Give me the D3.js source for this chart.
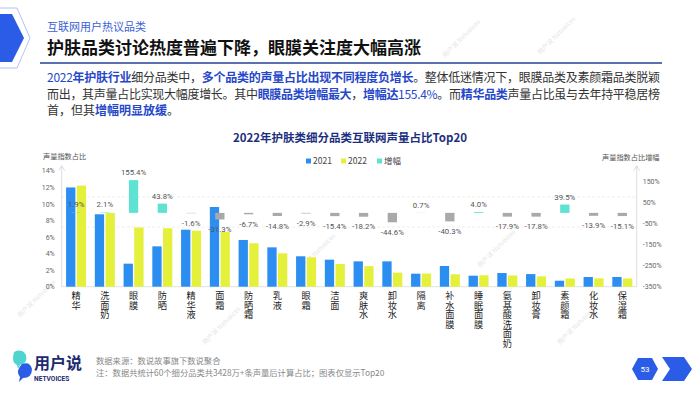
<!DOCTYPE html>
<html>
<head>
<meta charset="utf-8">
<script src="https://cdn.jsdelivr.net/npm/d3@7"></script>
<style>
  body { margin: 0; background: #fff; }
  svg { display: block; font-family: "Noto Sans CJK SC", "Noto Sans", sans-serif; }
  .vlabel { writing-mode: vertical-rl; text-orientation: upright; }
</style>
</head>
<body>
<svg id="chart" width="700" height="394"></svg>
<script>
// chart data
const categories = ['精华', '洗面奶', '眼膜', '防晒', '精华液', '面霜', '防晒霜', '乳液', '眼霜', '洁面',
    '爽肤水', '卸妆水', '隔离', '补水面膜', '睡眠面膜', '氨基酸洗面奶', '卸妆膏', '素颜霜', '化妆水', '保湿霜'];
const share2021 = [11.98, 8.74, 2.78, 4.87, 6.88, 9.62, 5.64, 4.75, 3.67, 3.26,
    3.06, 3.06, 1.57, 2.50, 1.33, 1.65, 1.52, 0.72, 1.17, 1.17];
const share2022 = [12.2, 8.9, 7.15, 7.05, 6.76, 6.6, 5.24, 4.03, 3.55, 2.74,
    2.48, 1.70, 1.58, 1.50, 1.38, 1.36, 1.25, 1.00, 1.01, 0.99];
const growth = [1.9, 2.1, 155.4, 43.8, -1.6, -31.3, -6.7, -14.8, -2.9, -15.4,
    -18.2, -44.6, 0.7, -40.3, 4.0, -17.9, -17.8, 39.5, -13.9, -15.1];
const leftTicks = [0, 2, 4, 6, 8, 10, 12, 14];
const rightTicks = [150, 50, -50, -150, -250, -350];
const seriesNames = ['2021', '2022', '增幅'];

const colors = { '2021': '#2b8ef0', '2022': '#e4f03a', up: '#5de2d3', down: '#a9a9a9' };

const svg = d3.select('#chart');

// ---- page decoration ----
svg.append('polygon')
    .attr('points', '-20,14 12,14 24,38 12,62 -20,62')
    .attr('fill', '#2a5ce8');
svg.append('polyline')
    .attr('points', '-10,8 17,8 30,38 17,68 -10,68')
    .attr('fill', 'none').attr('stroke', '#9fb3ef').attr('stroke-width', 0.8);

// faint watermarks, kept clear of the real texts
const marks = [[445, 58], [540, 55], [300, 272], [480, 268], [205, 345], [560, 345], [20, 318]];
marks.forEach(([mx, my]) => {
    const g = svg.append('g').attr('transform', `translate(${mx},${my}) rotate(-45)`)
        .attr('fill', '#e6e6e6').attr('font-size', 6.5);
    g.append('text').text('用户说 Netvoices');
});

svg.append('text').attr('x', 47).attr('y', 30.5)
    .attr('font-size', 11).attr('fill', '#3d5fd6').text('互联网用户热议品类');
svg.append('text').attr('x', 47).attr('y', 54)
    .attr('font-size', 17).attr('font-weight', 'bold').attr('fill', '#111')
    .text('护肤品类讨论热度普遍下降，眼膜关注度大幅高涨');
svg.append('line').attr('x1', 40).attr('x2', 662).attr('y1', 63).attr('y2', 63)
    .attr('stroke', '#263f94').attr('stroke-width', 1.6);

// paragraph, blue parts marked with b (bold) or c (colour only)
const paraLines = [
    [['c', '2022'], ['b', '年护肤行业'], ['n', '细分品类中，'], ['b', '多个品类的声量占比出现不同程度负增长'], ['n', '。整体低迷情况下，眼膜品类及素颜霜品类脱颖']],
    [['n', '而出，其声量占比实现大幅度增长。其中'], ['b', '眼膜品类增幅最大'], ['n', '，'], ['b', '增幅达'], ['c', '155.4%'], ['n', '。而'], ['b', '精华品类'], ['n', '声量占比虽与去年持平稳居榜']],
    [['n', '首，但其'], ['b', '增幅明显放缓'], ['n', '。']]
];
paraLines.forEach((parts, i) => {
    const t = svg.append('text').attr('x', 47).attr('y', 82 + i * 16.5)
        .attr('font-size', 12).attr('fill', '#333');
    if (i < 2) t.attr('textLength', 613).attr('lengthAdjust', 'spacing');
    parts.forEach(([k, s]) => {
        const sp = t.append('tspan').text(s);
        if (k !== 'n') sp.attr('fill', '#2648c8');
        if (k === 'b') sp.attr('font-weight', 'bold');
    });
});

// ---- chart ----
const y0 = 286.7, yTop = 170.7;
const x = d3.scaleBand().domain(categories).range([61.7, 636.7]);
const x1 = d3.scaleBand().domain(['2021', '2022']).range([0, x.bandwidth()])
    .paddingInner(0.13).paddingOuter(0.41);
const yL = d3.scaleLinear().domain([0, 14]).range([y0, yTop]);
const yR = d3.scaleLinear().domain([-350, 200]).range([y0, yTop]);

svg.append('text').attr('x', 350).attr('y', 142).attr('text-anchor', 'middle')
    .attr('font-size', 11.5).attr('font-weight', 'bold').attr('fill', '#1c2f7e')
    .text('2022年护肤类细分品类互联网声量占比Top20');

// legend
const legendX = [306, 341, 377];
seriesNames.forEach((s, i) => {
    svg.append('rect').attr('x', legendX[i]).attr('y', 158.5).attr('width', 5).attr('height', 5)
        .attr('fill', i === 0 ? colors['2021'] : i === 1 ? colors['2022'] : colors.up);
    svg.append('text').attr('x', legendX[i] + 7).attr('y', 164)
        .attr('font-size', 8.5).attr('fill', '#444').text(s);
});

// axis titles
svg.append('text').attr('x', 43).attr('y', 159).attr('font-size', 7.2).attr('fill', '#555').text('声量指数占比');
svg.append('text').attr('x', 602).attr('y', 160).attr('font-size', 7.2).attr('fill', '#555').text('声量指数占比增幅');

// faint dashed guide lines
[197, 227].forEach(gy => {
    svg.append('line').attr('x1', 62).attr('x2', 636).attr('y1', gy).attr('y2', gy)
        .attr('stroke', '#e2e2e2').attr('stroke-width', 0.6).attr('stroke-dasharray', '3,2');
});

// left axis
const leftAxis = svg.append('g').attr('transform', 'translate(61.7,0)')
    .call(d3.axisLeft(yL).tickValues(leftTicks).tickFormat(d => d + '%').tickSize(0).tickPadding(7));
leftAxis.select('.domain').remove();
leftAxis.selectAll('text').attr('font-size', 7).attr('fill', '#666').attr('font-family', 'Roboto, sans-serif');
svg.append('line').attr('x1', 61.7).attr('x2', 61.7).attr('y1', y0).attr('y2', yTop - 4)
    .attr('stroke', '#d3d3d3').attr('stroke-width', 0.8);
svg.append('path').attr('d', `M58.7,${yTop} L61.7,${yTop - 5} L64.7,${yTop}`)
    .attr('fill', 'none').attr('stroke', '#d3d3d3').attr('stroke-width', 0.8);

// right axis
const rightAxis = svg.append('g').attr('transform', 'translate(636.7,0)')
    .call(d3.axisRight(yR).tickValues(rightTicks).tickFormat(d => d + '%').tickSize(0).tickPadding(6));
rightAxis.select('.domain').remove();
rightAxis.selectAll('text').attr('font-size', 7).attr('fill', '#666').attr('font-family', 'Roboto, sans-serif');
svg.append('line').attr('x1', 636.7).attr('x2', 636.7).attr('y1', y0).attr('y2', yTop - 4)
    .attr('stroke', '#d3d3d3').attr('stroke-width', 0.8);
svg.append('path').attr('d', `M633.7,${yTop} L636.7,${yTop - 5} L639.7,${yTop}`)
    .attr('fill', 'none').attr('stroke', '#d3d3d3').attr('stroke-width', 0.8);

// baseline
svg.append('line').attr('x1', 61.7).attr('x2', 636.7).attr('y1', y0).attr('y2', y0)
    .attr('stroke', '#d8d8d8').attr('stroke-width', 0.8);

// share bars
const rows = categories.map((c, i) => ({ c, v2021: share2021[i], v2022: share2022[i], g: growth[i] }));
const groups = svg.append('g').selectAll('g').data(rows).join('g')
    .attr('transform', d => `translate(${x(d.c)},0)`);
groups.selectAll('rect.share')
    .data(d => [{ k: '2021', v: d.v2021 }, { k: '2022', v: d.v2022 }])
    .join('rect').attr('class', 'share')
    .attr('x', d => x1(d.k)).attr('width', x1.bandwidth())
    .attr('y', d => yL(d.v)).attr('height', d => y0 - yL(d.v))
    .attr('fill', d => colors[d.k]);

// growth bars, floating on the right-axis zero
const gw = x1.bandwidth();
groups.append('rect')
    .attr('x', (x.bandwidth() - gw) / 2).attr('width', gw)
    .attr('y', d => Math.min(yR(d.g), yR(0)))
    .attr('height', d => Math.abs(yR(d.g) - yR(0)))
    .attr('fill', d => d.g >= 0 ? colors.up : colors.down);
groups.append('text')
    .attr('x', x.bandwidth() / 2).attr('text-anchor', 'middle')
    .attr('y', d => d.g >= 0 ? yR(d.g) - 5 : yR(d.g) + 12.5)
    .attr('font-size', 7.8).attr('fill', '#555').attr('font-family', 'Roboto, sans-serif')
    .text(d => d.g.toFixed(1) + '%');

// vertical category labels
groups.append('text').attr('class', 'vlabel')
    .attr('x', x.bandwidth() / 2).attr('y', 291)
    .attr('font-size', 9.2).attr('fill', '#222').attr('letter-spacing', 0.3)
    .text(d => d.c);

// ---- footer ----
const logo = svg.append('g');
logo.append('path').attr('d', 'M14,352 q8,-4 12,3 q2,8 -6,10 l-2,4 l-1,-4 q-6,-2 -3,-13z').attr('fill', '#4fd5cf');
logo.append('path').attr('d', 'M22,364 q8,-3 10,5 q0,9 -9,9 l-4,4 l1,-5 q-5,-6 2,-13z').attr('fill', '#2a5ce8');
logo.append('text').attr('x', 34).attr('y', 369).attr('font-size', 16).attr('font-weight', 'bold')
    .attr('fill', '#1c2a6e').text('用户说');
logo.append('text').attr('x', 34).attr('y', 381).attr('font-size', 6.6).attr('font-weight', 'bold')
    .attr('fill', '#1c2a6e').attr('font-family', 'Roboto, sans-serif').text('NETVOICES');

svg.append('text').attr('x', 96).attr('y', 364).attr('font-size', 8.3).attr('fill', '#888')
    .text('数据来源：数说故事旗下数说聚合');
svg.append('text').attr('x', 96).attr('y', 376).attr('font-size', 8.3).attr('fill', '#888')
    .text('注：数据共统计60个细分品类共3428万+条声量后计算占比；图表仅显示Top20');

svg.append('polygon').attr('points', '638,358 652,358 658,369 652,380 638,380 632,369').attr('fill', '#2a5ce8');
svg.append('text').attr('x', 645).attr('y', 372).attr('text-anchor', 'middle').attr('font-size', 8)
    .attr('fill', '#fff').attr('font-family', 'Roboto, sans-serif').text('53');
svg.append('polygon').attr('points', '662,357 684,357 692,369 684,381 662,381 670,369').attr('fill', '#2a5ce8');
</script>
</body>
</html>
